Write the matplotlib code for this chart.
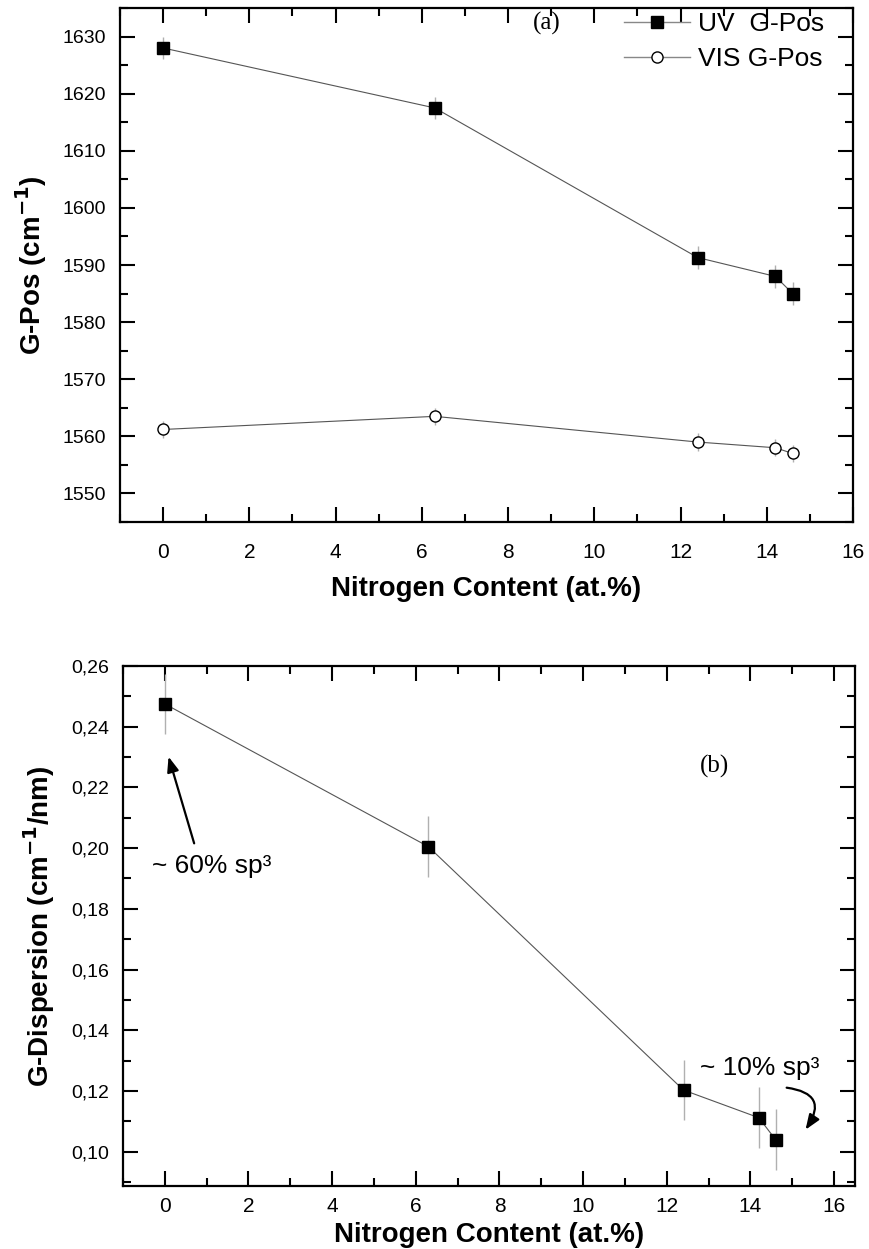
import matplotlib
matplotlib.use("Agg")
import matplotlib.pyplot as plt
from matplotlib.ticker import MultipleLocator, FuncFormatter

plt.rcParams['font.family'] = ['Liberation Sans', 'DejaVu Sans']

nitrogen = [0, 6.3, 12.4, 14.2, 14.6]
uv_gpos = [1628, 1617.5, 1591.3, 1588, 1585]
uv_gpos_err = [2, 2, 2, 2, 2]
vis_gpos = [1561.2, 1563.5, 1559, 1558, 1557]
vis_gpos_err = [1.5, 1.5, 1.5, 1.5, 1.5]
g_disp = [0.2475, 0.2005, 0.1203, 0.1112, 0.1040]
g_disp_err = [0.01, 0.01, 0.01, 0.01, 0.01]

fig = plt.figure(figsize=(8.7, 12.49), dpi=100)
ax1 = fig.add_axes([120 / 870, 1 - 522 / 1249, 733 / 870, 514 / 1249])
ax2 = fig.add_axes([123 / 870, 1 - 1186 / 1249, 732 / 870, 520 / 1249])

err_kw = dict(ecolor="#b0b0b0", elinewidth=1.0, capsize=0)

ax1.errorbar(nitrogen, uv_gpos, yerr=uv_gpos_err, color="#555555", lw=0.8,
             marker="s", ms=8, mfc="black", mec="black", **err_kw)
ax1.errorbar(nitrogen, vis_gpos, yerr=vis_gpos_err, color="#555555", lw=0.8,
             marker="o", ms=8, mfc="white", mec="black", mew=1.0, **err_kw)
ax2.errorbar(nitrogen, g_disp, yerr=g_disp_err, color="#555555", lw=0.8,
             marker="s", ms=8, mfc="black", mec="black", **err_kw)

# legend drawn with plain handles
h1, = ax1.plot([], [], color="#888888", lw=1.0, marker="s", ms=8,
               mfc="black", mec="black")
h2, = ax1.plot([], [], color="#888888", lw=1.0, marker="o", ms=8,
               mfc="white", mec="black")
ax1.legend([h1, h2], ["UV  G-Pos", "VIS G-Pos"], loc="upper right",
           bbox_to_anchor=(0.96, 0.992), frameon=False, fontsize=19,
           handlelength=2.5, handletextpad=0.3, borderpad=0,
           borderaxespad=0, labelspacing=0.42)

ax1.set_xlim(-1, 16)
ax1.set_ylim(1545, 1635)
ax2.set_xlim(-1, 16.5)
ax2.set_ylim(0.0887, 0.26)

ax1.yaxis.set_major_locator(MultipleLocator(10))
ax1.yaxis.set_minor_locator(MultipleLocator(5))
ax2.yaxis.set_major_locator(MultipleLocator(0.02))
ax2.yaxis.set_minor_locator(MultipleLocator(0.01))
ax2.yaxis.set_major_formatter(FuncFormatter(lambda v, p: f"{v:.2f}".replace(".", ",")))

for ax in (ax1, ax2):
    ax.xaxis.set_major_locator(MultipleLocator(2))
    ax.xaxis.set_minor_locator(MultipleLocator(1))
    ax.tick_params(which="both", direction="in", top=True, right=True,
                   labeltop=False, labelright=False, width=1.5)
    ax.tick_params(which="major", length=11)
    ax.tick_params(which="minor", length=6)
    ax.tick_params(axis="y", labelsize=14, pad=10)
    ax.tick_params(axis="x", labelsize=15)
    for lab in ax.get_xticklabels():
        lab.set_family(['Liberation Sans Narrow', 'Liberation Sans'])
    for s in ax.spines.values():
        s.set_linewidth(1.6)

ax1.tick_params(axis="x", pad=15)
ax2.tick_params(axis="x", pad=8)
ax1.set_xlabel("Nitrogen Content (at.%)", fontsize=20, fontweight="bold",
               labelpad=10)
ax2.set_xlabel("Nitrogen Content (at.%)", fontsize=20, fontweight="bold",
               labelpad=4)

ax1.set_ylabel(r"G-Pos (cm$^{\mathbf{-1}}$)", fontsize=20, fontweight="bold",
               labelpad=10)
ax2.set_ylabel(r"G-Dispersion (cm$^{\mathbf{-1}}$/nm)", fontsize=20,
               fontweight="bold", labelpad=10)

ax1.text(8.9, 1632.3, "(a)", family="Liberation Serif", fontsize=18,
         ha="center", va="center")
ax2.text(13.15, 0.227, "(b)", family="Liberation Serif", fontsize=18,
         ha="center", va="center")

ax2.text(-0.3, 0.194, "~ 60% sp³", fontsize=19, ha="left", va="center")
ax2.annotate("", xy=(0.07, 0.231), xytext=(0.72, 0.2007),
             arrowprops=dict(arrowstyle="-|>,head_length=0.9,head_width=0.35",
                             color="black", lw=1.6))
ax2.text(14.22, 0.1275, "~ 10% sp³", fontsize=19, ha="center", va="center")
ax2.annotate("", xy=(15.28, 0.1065), xytext=(14.8, 0.1212),
             arrowprops=dict(arrowstyle="-|>,head_length=0.9,head_width=0.35",
                             color="black", lw=1.6,
                             connectionstyle="arc3,rad=-0.85"))

fig.savefig("out.png", dpi=100)
